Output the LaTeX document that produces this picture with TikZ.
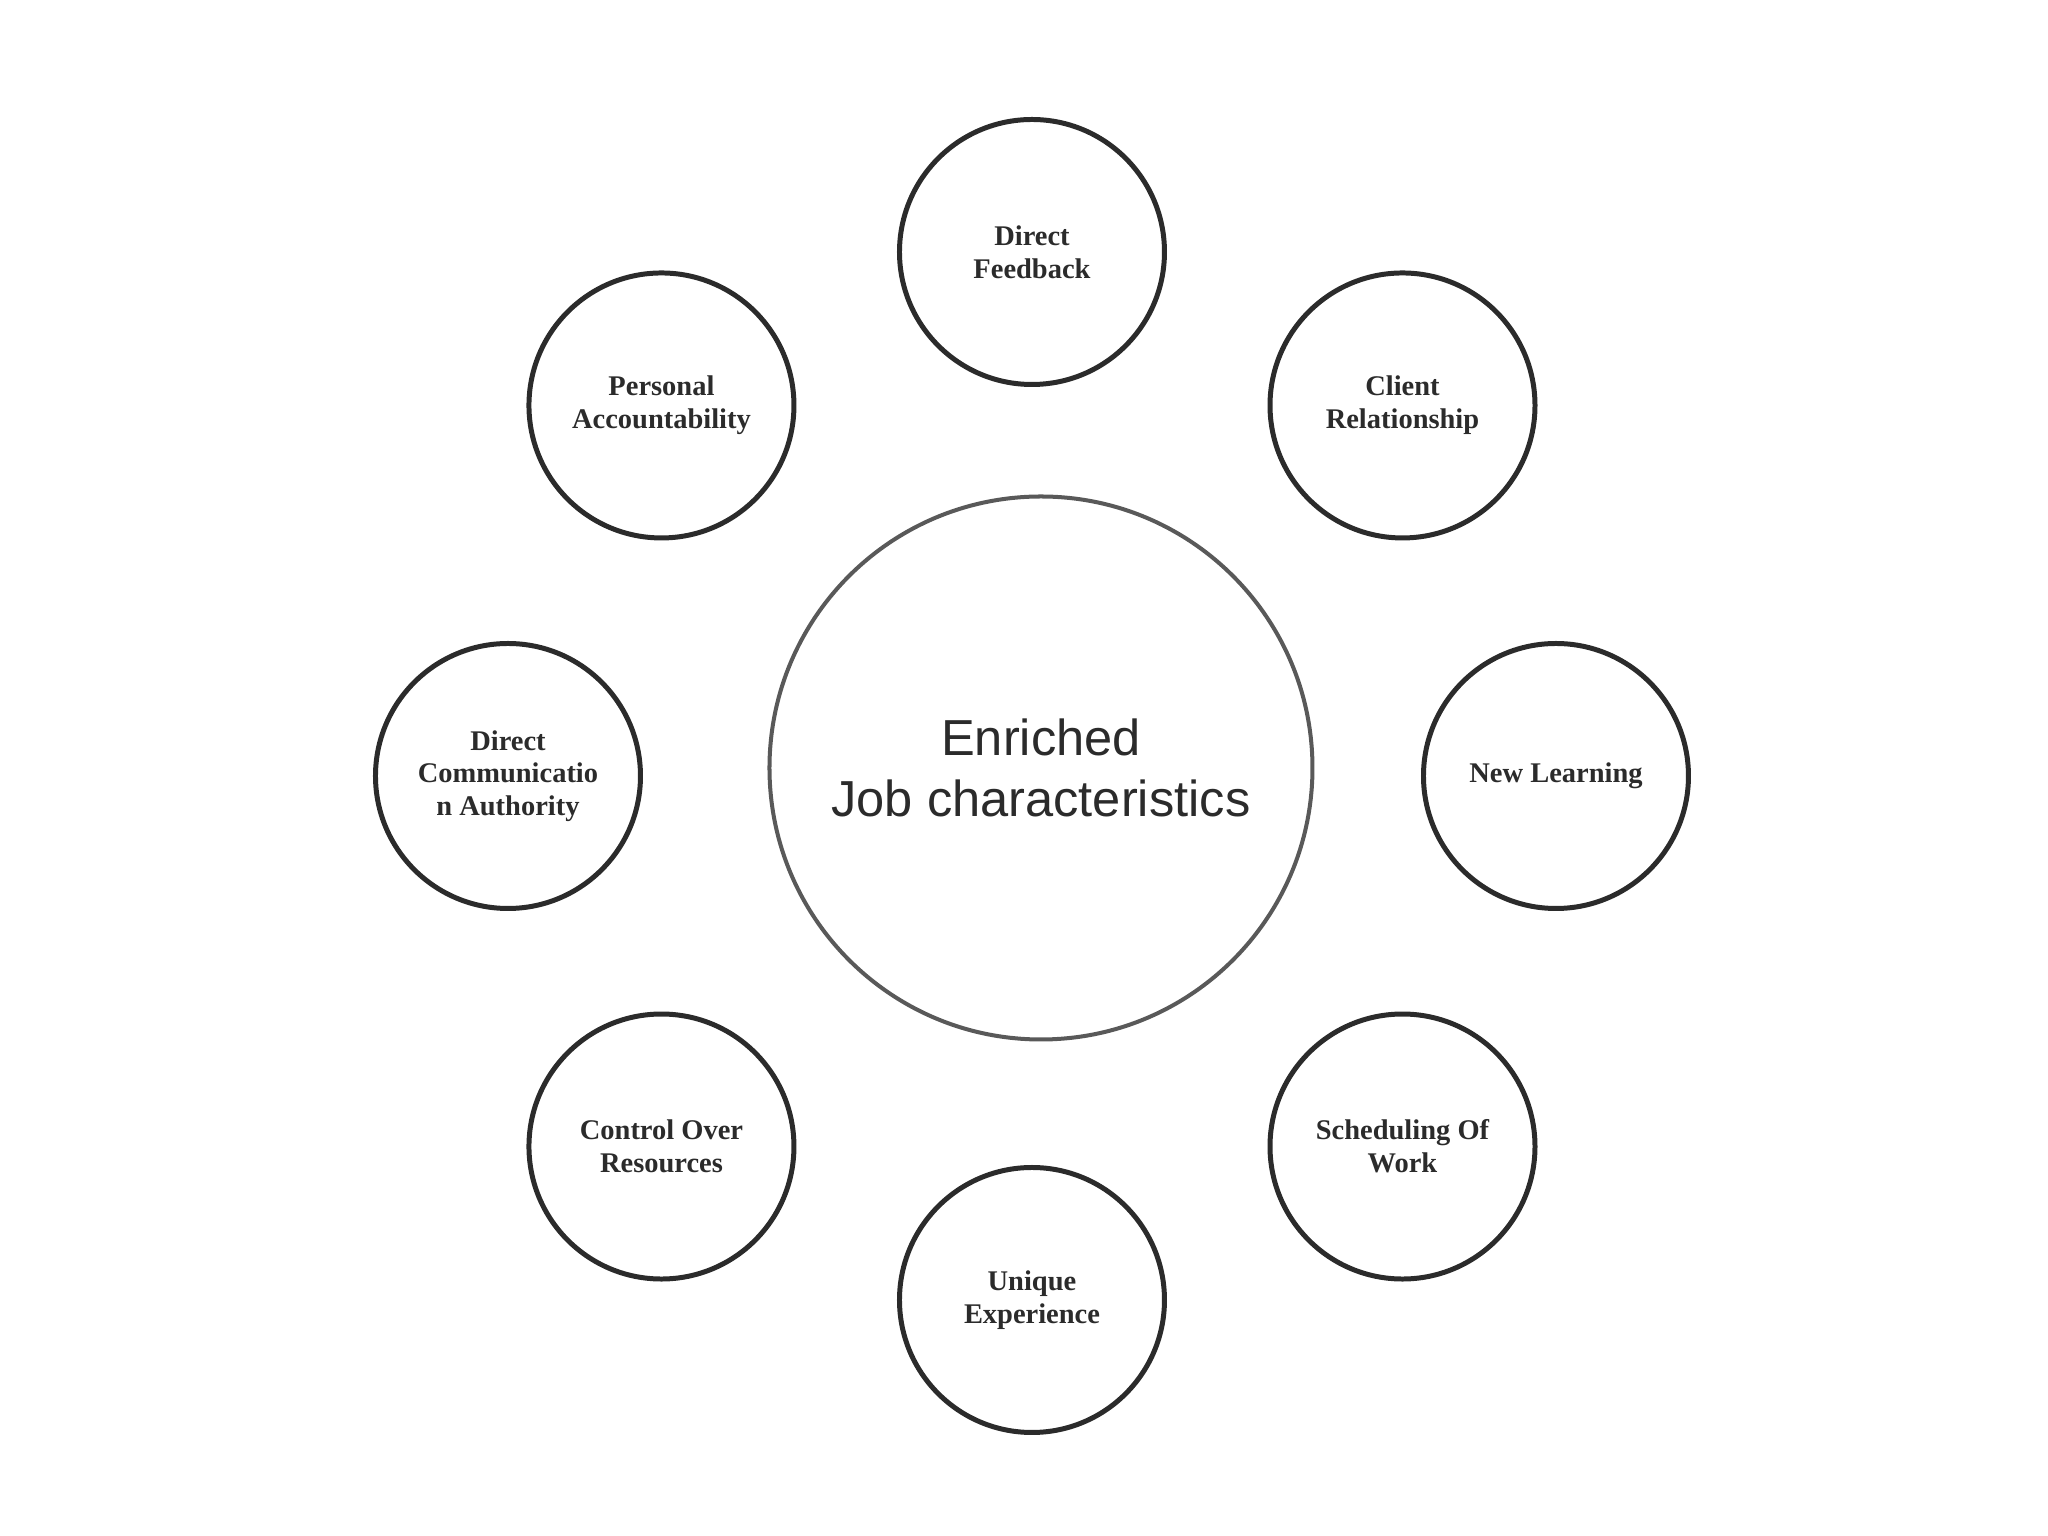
\documentclass[tikz,border=0pt]{standalone}
\usepackage{fontspec}
\setmainfont{Liberation Serif}
\newfontfamily\hubfont{Liberation Sans}
\begin{document}
\begin{tikzpicture}[
  trait/.style={circle, draw=black!83, line width=1.42pt, minimum size=2.65cm, inner sep=0pt, align=center, text=black!83, font=\fontsize{8.1}{9.3}\selectfont\bfseries},
  hub/.style={circle, draw=black!65, line width=1.14pt, minimum size=5.43cm, inner sep=0pt, align=center, text=black!83, font=\hubfont\fontsize{14.4}{17.5}\selectfont}
]
% Fix the page to the reference size
\useasboundingbox (-10.32,-7.60) rectangle (10.16,7.76);
% Draw the centre circle
\node[hub] (hub) at (0.09,0.08) {Enriched\\Job characteristics};
% Draw the ring of characteristics
\foreach \a/\n/\t in {
  90/feedback/{Direct\\Feedback},
  45/client/{Client\\Relationship},
  0/learning/{New Learning},
  -45/scheduling/{Scheduling Of\\Work},
  -90/unique/{Unique\\Experience},
  -135/resources/{Control Over\\Resources},
  180/communication/{Direct\\Communicatio\\n Authority},
  135/accountability/{Personal\\Accountability}}
{
\node[trait] (\n) at (\a:5.24) {\t};
}
\end{tikzpicture}
\end{document}
